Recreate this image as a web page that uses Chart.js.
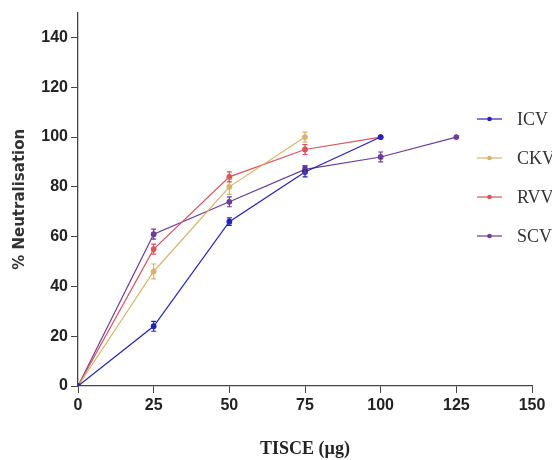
<!DOCTYPE html>
<html lang="en">
<head>
    <meta charset="UTF-8">
    <title>% Neutralisation vs TISCE</title>
    <script src="https://cdn.jsdelivr.net/npm/chart.js"></script>
    <style>
        html, body { margin: 0; padding: 0; background: #fff; }
        #wrap { width: 552px; height: 460px; position: relative; }
    </style>
</head>
<body>
<div id="wrap"><canvas id="neutChart"></canvas></div>

<script>
    // dose of TISCE (µg)
    const doses = [0, 25, 50, 75, 100, 125];

    // % neutralisation per venom
    const icv = [0, 24, 66, 86, 100];
    const ckv = [0, 46, 80, 100];
    const rvv = [0, 55, 84, 95, 100];
    const scv = [0, 61, 74, 87, 92, 100];

    // error bar half widths
    const icvErr = [0, 2, 1.5, 2, 0];
    const ckvErr = [0, 3, 3, 2];
    const rvvErr = [0, 2, 2, 2, 0];
    const scvErr = [0, 2, 2, 1.5, 2, 0];

    const seriesNames = ['ICV', 'CKV', 'RVV', 'SCV'];
    const seriesColors = ['#2424b4', '#d6b46e', '#d8545f', '#6e3d98'];
    const yTicks = [0, 20, 40, 60, 80, 100, 120, 140];
    const xTicks = [0, 25, 50, 75, 100, 125, 150];

    function toPoints(vals) {
        return vals.map((v, i) => ({ x: doses[i], y: v }));
    }

    const allVals = [icv, ckv, rvv, scv];
    const allErr = [icvErr, ckvErr, rvvErr, scvErr];

    const datasets = allVals.map((vals, i) => ({
        label: seriesNames[i],
        data: toPoints(vals),
        errors: allErr[i],
        borderColor: seriesColors[i],
        backgroundColor: seriesColors[i],
        borderWidth: 1.2,
        pointRadius: 2.3,
        pointHoverRadius: 2.3,
        tension: 0
    }));

    // error bars, drawn through the chart scales
    const errorBars = {
        id: 'errorBars',
        afterDatasetsDraw(chart) {
            const { ctx, scales } = chart;
            chart.data.datasets.forEach(ds => {
                ctx.save();
                ctx.strokeStyle = ds.borderColor;
                ctx.lineWidth = 1.2;
                ds.data.forEach((p, j) => {
                    const e = ds.errors[j];
                    if (!e) return;
                    const x = scales.x.getPixelForValue(p.x);
                    const y1 = scales.y.getPixelForValue(p.y - e);
                    const y2 = scales.y.getPixelForValue(p.y + e);
                    ctx.beginPath();
                    ctx.moveTo(x, y1); ctx.lineTo(x, y2);
                    ctx.moveTo(x - 2.5, y1); ctx.lineTo(x + 2.5, y1);
                    ctx.moveTo(x - 2.5, y2); ctx.lineTo(x + 2.5, y2);
                    ctx.stroke();
                });
                ctx.restore();
            });
        }
    };

    // legend drawn at the right inside the plot
    const sideLegend = {
        id: 'sideLegend',
        afterDraw(chart) {
            const { ctx } = chart;
            const x0 = 477, y0 = 119, gap = 39;
            chart.data.datasets.forEach((ds, i) => {
                const y = y0 + i * gap;
                ctx.save();
                ctx.strokeStyle = ds.borderColor;
                ctx.fillStyle = ds.borderColor;
                ctx.lineWidth = 1.2;
                ctx.beginPath();
                ctx.moveTo(x0, y); ctx.lineTo(x0 + 25, y);
                ctx.stroke();
                ctx.beginPath();
                ctx.arc(x0 + 12.5, y, 2.3, 0, Math.PI * 2);
                ctx.fill();
                ctx.fillStyle = '#333';
                ctx.font = '18px "Liberation Serif"';
                ctx.textBaseline = 'middle';
                ctx.fillText(ds.label, x0 + 40, y + 1);
                ctx.restore();
            });
        }
    };

    const axisColor = '#444';
    const tickFont = { family: 'Liberation Sans Narrow, Liberation Sans', size: 16, weight: 'bold' };

    const config = {
        type: 'line',
        data: { datasets: datasets },
        options: {
            responsive: true,
            maintainAspectRatio: false,
            animation: false,
            layout: { padding: { top: 12, right: 20, left: 0, bottom: 0 } },
            plugins: {
                legend: { display: false },
                tooltip: { enabled: false }
            },
            scales: {
                x: {
                    type: 'linear',
                    min: 0,
                    max: 150,
                    afterBuildTicks: s => { s.ticks = xTicks.map(v => ({ value: v })); },
                    afterFit: s => { s.height = 74; },
                    grid: {
                        display: true,
                        drawOnChartArea: false,
                        drawTicks: true,
                        tickLength: 7,
                        color: axisColor
                    },
                    border: { color: axisColor, width: 1.3 },
                    ticks: {
                        color: '#222',
                        padding: 3,
                        maxRotation: 0,
                        font: tickFont
                    },
                    title: {
                        display: true,
                        text: 'TISCE (µg)',
                        color: '#222',
                        padding: { top: 4, bottom: 0 },
                        font: { family: 'Liberation Serif', size: 18, weight: 'bold' }
                    }
                },
                y: {
                    min: 0,
                    max: 150,
                    afterBuildTicks: s => { s.ticks = yTicks.map(v => ({ value: v })); },
                    afterFit: s => { s.width = 78; },
                    grid: {
                        display: true,
                        drawOnChartArea: false,
                        drawTicks: true,
                        tickLength: 7,
                        color: axisColor
                    },
                    border: { color: axisColor, width: 1.3 },
                    ticks: {
                        color: '#222',
                        padding: 3,
                        font: tickFont
                    },
                    title: {
                        display: true,
                        text: '% Neutralisation',
                        color: '#333',
                        padding: { top: 11, bottom: 0 },
                        font: { family: 'DejaVu Sans', size: 15, weight: 'bold' }
                    }
                }
            }
        },
        plugins: [errorBars, sideLegend]
    };

    new Chart(document.getElementById('neutChart'), config);
</script>
</body>
</html>
